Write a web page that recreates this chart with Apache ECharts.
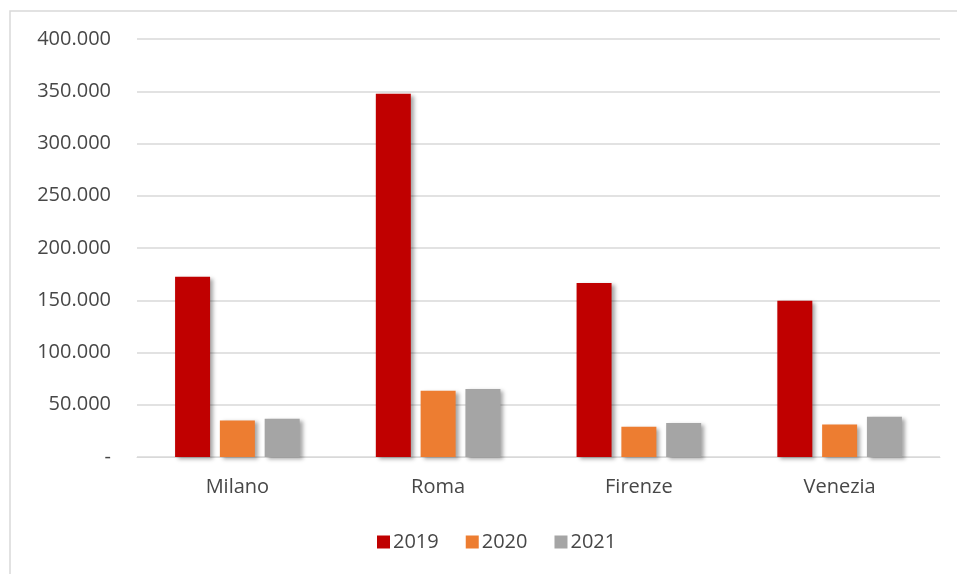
<!DOCTYPE html>
<html>
<head>
<meta charset="utf-8">
<script src="https://cdn.jsdelivr.net/npm/echarts@6/dist/echarts.min.js"></script>
<style>
  html, body { margin: 0; padding: 0; background: #ffffff; }
  #chart { width: 957px; height: 574px; }
</style>
</head>
<body>
<div id="chart"></div>
<script>
// Visitor counts per city and year
const cities = ['Milano', 'Roma', 'Firenze', 'Venezia'];
const years = ['2019', '2020', '2021'];
const values2019 = [172500, 347500, 166500, 149500];
const values2020 = [35000, 63500, 29000, 31000];
const values2021 = [36500, 65000, 32500, 38500];
const yearColors = ['#C00000', '#ED7D31', '#A5A5A5'];

const FONT = '"Open Sans", "Noto Sans", sans-serif';
const TEXT_COLOR = '#474747';

// Italian thousands separator, zero drawn as a dash
function formatThousands(v) {
  if (v === 0) return '-';
  return String(v).replace(/\B(?=(\d{3})+(?!\d))/g, '.');
}

const seriesValues = [values2019, values2020, values2021];

const chart = echarts.init(document.getElementById('chart'), null, { renderer: 'canvas' });

chart.setOption({
  backgroundColor: '#ffffff',
  animation: false,
  graphic: [{
    type: 'rect',
    shape: { x: 10, y: 11, width: 960, height: 580 },
    style: { fill: 'none', stroke: '#d9d9d9', lineWidth: 1.5 },
    silent: true
  }],
  grid: { left: 137, right: 17, top: 39, bottom: 117, containLabel: false },
  legend: {
    data: years,
    left: 372,
    top: 527,
    icon: 'rect',
    itemWidth: 13,
    itemHeight: 13,
    itemGap: 27,
    textStyle: { fontFamily: FONT, fontSize: 20, color: TEXT_COLOR, padding: [0, 0, 0, -2] }
  },
  xAxis: {
    type: 'category',
    data: cities,
    axisLine: { show: true, lineStyle: { color: '#d9d9d9', width: 1 } },
    axisTick: { show: false },
    axisLabel: { fontFamily: FONT, fontSize: 20, color: TEXT_COLOR, margin: 20 }
  },
  yAxis: {
    type: 'value',
    min: 0,
    max: 400000,
    interval: 50000,
    axisLine: { show: false },
    axisTick: { show: false },
    splitLine: { lineStyle: { color: '#d9d9d9', width: 1.5 } },
    axisLabel: {
      fontFamily: FONT, fontSize: 20, color: TEXT_COLOR, margin: 26,
      formatter: formatThousands
    }
  },
  series: years.map((y, i) => ({
    name: y,
    type: 'bar',
    data: seriesValues[i],
    barWidth: 35,
    barGap: '28%',
    itemStyle: {
      color: yearColors[i],
      shadowColor: 'rgba(0,0,0,0.35)',
      shadowBlur: 4,
      shadowOffsetX: 3,
      shadowOffsetY: 2
    }
  }))
});
</script>
</body>
</html>
